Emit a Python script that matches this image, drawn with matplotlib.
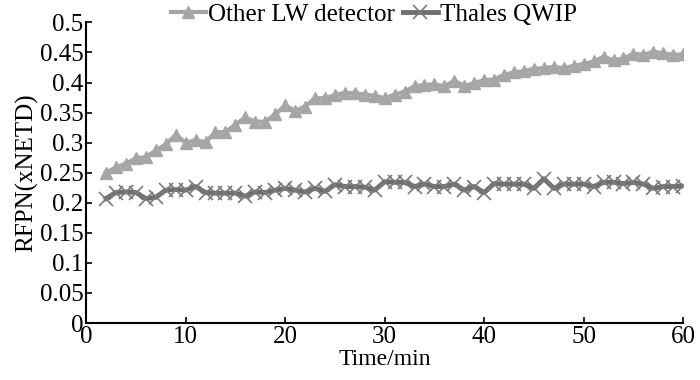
import numpy as np
import matplotlib
matplotlib.use('Agg')
import matplotlib.pyplot as plt

plt.rcParams['font.family'] = ['Liberation Serif', 'DejaVu Serif']

# time axis (min)
t = np.arange(2, 61)

# RFPN of the other LW detector
other_lw = [0.250, 0.259, 0.265, 0.274, 0.276, 0.287, 0.297, 0.313, 0.300, 0.304,
            0.301, 0.317, 0.318, 0.330, 0.342, 0.335, 0.335, 0.347, 0.362, 0.353,
            0.360, 0.374, 0.374, 0.379, 0.383, 0.382, 0.380, 0.378, 0.374, 0.380,
            0.385, 0.394, 0.396, 0.397, 0.394, 0.403, 0.394, 0.399, 0.404, 0.405,
            0.413, 0.417, 0.419, 0.423, 0.424, 0.426, 0.424, 0.428, 0.431, 0.435,
            0.443, 0.437, 0.440, 0.448, 0.446, 0.451, 0.449, 0.446, 0.447]

# RFPN of Thales QWIP
thales = [0.207, 0.217, 0.218, 0.217, 0.207, 0.209, 0.221, 0.222, 0.221, 0.227,
          0.217, 0.216, 0.216, 0.216, 0.211, 0.218, 0.217, 0.221, 0.224, 0.221,
          0.218, 0.224, 0.219, 0.230, 0.227, 0.227, 0.226, 0.221, 0.235, 0.234,
          0.234, 0.227, 0.231, 0.227, 0.227, 0.231, 0.221, 0.227, 0.217, 0.232,
          0.231, 0.231, 0.231, 0.224, 0.240, 0.224, 0.231, 0.231, 0.231, 0.227,
          0.234, 0.234, 0.232, 0.234, 0.231, 0.224, 0.227, 0.227, 0.228]

fig = plt.figure(figsize=(7, 3.8), dpi=100)
ax = fig.add_axes([0.123, 0.15, 0.853, 0.791])

ax.plot(t, other_lw, color='#a6a6a6', lw=3, marker='^', ms=9,
        mec='#a6a6a6', mfc='#a6a6a6', label='Other LW detector')
ax.plot(t, thales, color='#6e6e6e', lw=3.5, marker='x', ms=10, mew=1.2,
        mec='#7a7a7a', label='Thales QWIP')

ax.set_xlim(0, 60)
ax.set_ylim(0, 0.5)
ax.set_xticks(np.arange(0, 61, 10))
ax.set_yticks(np.arange(0, 0.51, 0.05))
ax.set_yticklabels(['0', '0.05', '0.1', '0.15', '0.2', '0.25', '0.3',
                    '0.35', '0.4', '0.45', '0.5'])
ax.tick_params(direction='in', length=4, width=1.2, labelsize=18)
ax.tick_params(axis='y', pad=2)
ax.tick_params(axis='x', pad=2)
ax.spines['top'].set_visible(False)
ax.spines['right'].set_visible(False)
ax.spines['left'].set_linewidth(1.5)
ax.spines['bottom'].set_linewidth(1.5)

ax.set_xlabel('Time/min', fontsize=17, labelpad=1)
ax.set_ylabel('RFPN(xNETD)', fontsize=18, labelpad=1)

ax.legend(loc='lower center', bbox_to_anchor=(0.482, 0.955), ncol=2, frameon=False,
          fontsize=18, handlelength=1.4, handletextpad=0.1, columnspacing=0.3,
          borderaxespad=0)

fig.savefig('out.png', dpi=100)
